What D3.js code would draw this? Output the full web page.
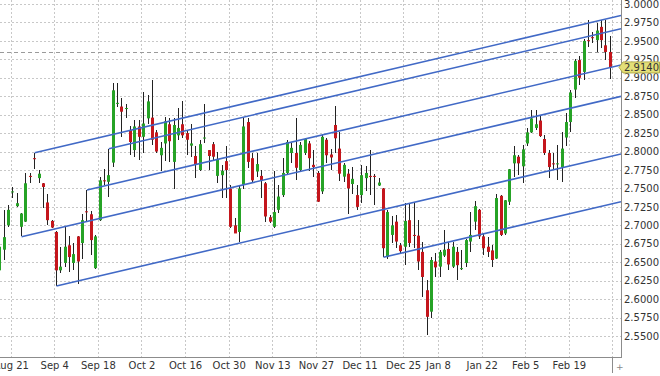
<!DOCTYPE html>
<meta charset="utf-8">
<html>
<style>
  body { margin: 0; background: #fff; }
  svg text { font-family: "DejaVu Sans", sans-serif; font-size: 10px; fill: #333; }
  .grid line { stroke: #c8c8c8; stroke-dasharray: 2,2; shape-rendering: crispEdges; }
  .wick { stroke: #222; stroke-width: 1; shape-rendering: crispEdges; }
  .channel { stroke: #4169c6; stroke-width: 1.6; fill: none; }
</style>
<body>
<svg width="660" height="376"></svg>
<script src="https://d3js.org/d3.v7.min.js"></script>
<script>

// trading calendar (weekdays, minus the two closed days)
var firstDay = "2017-08-16", lastDay = "2018-03-02";
var holidays = ["2017-12-25", "2018-01-01"];

var openP = [2.639,2.667,2.700,2.745,2.726,2.698,2.705,2.767,2.791,2.764,2.757,2.731,2.706,2.691,2.639,2.649,2.673,2.649,2.685,2.676,
  2.719,2.715,2.642,2.707,2.761,2.759,2.785,2.865,2.861,2.858,2.829,2.802,2.834,2.820,2.845,2.846,2.826,2.795,2.811,2.837,
  2.786,2.822,2.837,2.825,2.808,2.794,2.775,2.818,2.802,2.810,2.767,2.768,2.787,2.750,2.700,2.691,2.755,2.840,2.791,2.773,
  2.767,2.757,2.711,2.698,2.721,2.741,2.771,2.798,2.798,2.775,2.798,2.811,2.782,2.771,2.746,2.816,2.796,2.836,2.804,2.766,
  2.770,2.756,2.741,2.741,2.764,2.767,2.767,2.754,2.750,2.657,2.687,2.705,2.673,2.671,2.707,2.687,2.686,2.664,2.612,2.583,
  2.651,2.644,2.659,2.668,2.644,2.664,2.641,2.649,2.678,2.705,2.721,2.685,2.671,2.666,2.655,2.740,2.689,2.732,2.784,2.793,
  2.780,2.811,2.826,2.832,2.842,2.817,2.798,2.784,2.783,2.779,2.819,2.840,2.884,2.924,2.908,2.951,2.955,2.951,2.969,2.944,
  2.935];
var highP = [2.680,2.721,2.728,2.752,2.744,2.717,2.771,2.771,2.798,2.775,2.757,2.743,2.707,2.692,2.671,2.698,2.685,2.676,2.685,2.716,
  2.748,2.719,2.687,2.766,2.777,2.804,2.893,2.893,2.872,2.865,2.834,2.843,2.843,2.881,2.877,2.897,2.829,2.813,2.847,2.845,
  2.845,2.859,2.868,2.829,2.838,2.807,2.816,2.864,2.802,2.813,2.800,2.782,2.807,2.755,2.710,2.753,2.847,2.845,2.798,2.798,
  2.775,2.759,2.714,2.773,2.755,2.791,2.816,2.811,2.845,2.813,2.818,2.814,2.802,2.773,2.822,2.818,2.804,2.862,2.827,2.784,
  2.776,2.779,2.755,2.782,2.781,2.802,2.769,2.764,2.751,2.721,2.712,2.714,2.676,2.730,2.730,2.730,2.707,2.678,2.626,2.657,
  2.662,2.667,2.694,2.678,2.678,2.671,2.667,2.682,2.718,2.733,2.722,2.689,2.684,2.673,2.743,2.741,2.735,2.777,2.808,2.795,
  2.809,2.832,2.856,2.857,2.848,2.822,2.802,2.798,2.809,2.826,2.852,2.883,2.926,2.929,2.953,2.978,2.962,2.974,2.978,2.978,
  2.956];
var lowP = [2.633,2.653,2.698,2.737,2.725,2.685,2.704,2.757,2.777,2.757,2.723,2.700,2.696,2.618,2.635,2.644,2.637,2.639,2.621,2.655,
  2.705,2.660,2.641,2.706,2.755,2.739,2.779,2.861,2.820,2.845,2.795,2.793,2.789,2.798,2.838,2.809,2.798,2.773,2.787,2.786,
  2.749,2.816,2.818,2.795,2.793,2.764,2.774,2.811,2.775,2.789,2.757,2.737,2.737,2.696,2.689,2.678,2.749,2.778,2.759,2.766,
  2.737,2.705,2.703,2.696,2.717,2.739,2.768,2.784,2.761,2.773,2.795,2.773,2.766,2.731,2.743,2.784,2.775,2.798,2.760,2.759,
  2.716,2.743,2.721,2.730,2.746,2.741,2.727,2.753,2.657,2.655,2.676,2.669,2.661,2.646,2.671,2.669,2.639,2.603,2.552,2.575,
  2.630,2.630,2.657,2.639,2.642,2.626,2.639,2.644,2.664,2.694,2.682,2.660,2.657,2.644,2.654,2.686,2.687,2.728,2.766,2.768,
  2.758,2.807,2.825,2.829,2.820,2.795,2.764,2.777,2.761,2.759,2.807,2.827,2.872,2.890,2.897,2.942,2.947,2.935,2.940,2.924,
  2.898];
var closeP = [2.671,2.684,2.721,2.746,2.730,2.716,2.757,2.766,2.790,2.770,2.752,2.707,2.697,2.639,2.644,2.671,2.657,2.661,2.651,2.707,
  2.718,2.680,2.685,2.761,2.760,2.768,2.883,2.866,2.854,2.859,2.813,2.834,2.820,2.838,2.868,2.816,2.800,2.805,2.841,2.814,
  2.836,2.832,2.822,2.816,2.811,2.782,2.810,2.819,2.794,2.793,2.790,2.774,2.775,2.698,2.689,2.750,2.834,2.786,2.761,2.783,
  2.761,2.712,2.705,2.718,2.739,2.771,2.813,2.805,2.778,2.809,2.817,2.791,2.779,2.732,2.820,2.795,2.792,2.818,2.770,2.782,
  2.750,2.763,2.725,2.768,2.771,2.766,2.766,2.758,2.669,2.718,2.700,2.678,2.665,2.706,2.676,2.686,2.651,2.630,2.576,2.653,
  2.643,2.664,2.667,2.647,2.671,2.646,2.642,2.680,2.687,2.726,2.685,2.669,2.664,2.653,2.737,2.687,2.734,2.776,2.795,2.784,
  2.803,2.826,2.845,2.837,2.821,2.798,2.779,2.783,2.784,2.804,2.840,2.880,2.923,2.900,2.950,2.950,2.954,2.964,2.951,2.935,
  2.914];

var tickDates  = ["2017-08-21","2017-09-04","2017-09-18","2017-10-02","2017-10-16","2017-10-30","2017-11-13",
                  "2017-11-27","2017-12-11","2017-12-25","2018-01-08","2018-01-22","2018-02-05","2018-02-19"];
var tickLabels = ["Aug 21","Sep 4","Sep 18","Oct 2","Oct 16","Oct 30","Nov 13",
                  "Nov 27","Dec 11","Dec 25","Jan 8","Jan 22","Feb 5","Feb 19"];
var priceTicks = [2.55,2.575,2.6,2.625,2.65,2.675,2.7,2.725,2.75,2.775,2.8,2.825,2.85,2.875,2.9,2.925,2.95,2.975,3.0];

// channel lines: start candle, price there, price at right edge
var channelStart = [8, 25, 20, 5, 13, 88];
var channelFrom  = [2.7985, 2.8039, 2.7479, 2.6846, 2.6178, 2.6567];
var channelTo    = [2.9844, 2.9664, 2.9173, 2.8748, 2.7968, 2.7320];

var prevClose = 2.9345;
var lastPrice = 2.914;

var svg = d3.select("svg"),
    width = +svg.attr("width"),
    height = +svg.attr("height");

var plotRight = 621, plotBottom = 357;

var parse = d3.timeParse("%Y-%m-%d"), fmt = d3.timeFormat("%Y-%m-%d");
var days = d3.timeDay.range(parse(firstDay), d3.timeDay.offset(parse(lastDay), 1))
    .filter(function(d) { return d.getDay() > 0 && d.getDay() < 6 && holidays.indexOf(fmt(d)) < 0; })
    .map(fmt);

var x = d3.scaleBand().domain(days).range([-2.4, 612.4]);
var xi = d3.scaleLinear().domain([0, days.length]).range(x.range());
var y = d3.scaleLinear().domain([2.55, 3.0]).range([336, 4]);
var bw = x.bandwidth();

var candles = days.map(function(d, i) {
  return { day: d, o: openP[i], h: highP[i], l: lowP[i], c: closeP[i] };
});

// index of first trading day on/after each tick date
var tickIdx = tickDates.map(function(t) { return days.findIndex(function(d) { return d >= t; }); });

svg.append("defs").append("clipPath").attr("id", "plot")
  .append("rect").attr("x", 0).attr("y", 0).attr("width", plotRight).attr("height", plotBottom);

// grid
var grid = svg.append("g").attr("class", "grid");
grid.selectAll(".hg").data(priceTicks).enter().append("line")
    .attr("x1", 0).attr("x2", plotRight)
    .attr("y1", function(d) { return Math.round(y(d)) + 0.5; })
    .attr("y2", function(d) { return Math.round(y(d)) + 0.5; });
grid.selectAll(".vg").data(tickIdx.concat([days.length])).enter().append("line")
    .attr("y1", 0).attr("y2", plotBottom)
    .attr("x1", function(d) { return Math.round(xi(d)) + 0.5; })
    .attr("x2", function(d) { return Math.round(xi(d)) + 0.5; });

var plot = svg.append("g").attr("clip-path", "url(#plot)");

// previous close reference
plot.append("line")
    .attr("x1", 0).attr("x2", plotRight)
    .attr("y1", Math.round(y(prevClose)) + 0.5).attr("y2", Math.round(y(prevClose)) + 0.5)
    .attr("stroke", "#9a9a9a").attr("stroke-dasharray", "4,3");

var cg = plot.selectAll(".candle").data(candles).enter().append("g");

cg.append("line").attr("class", "wick")
    .attr("x1", function(d) { return Math.floor(x(d.day) + bw / 2) + 0.5; })
    .attr("x2", function(d) { return Math.floor(x(d.day) + bw / 2) + 0.5; })
    .attr("y1", function(d) { return y(d.h); })
    .attr("y2", function(d) { return y(d.l); });

cg.append("rect")
    .attr("x", function(d) { return Math.floor(x(d.day) + bw / 2) - 1; })
    .attr("width", 3)
    .attr("y", function(d) { return y(Math.max(d.o, d.c)); })
    .attr("height", function(d) { return Math.max(1, Math.abs(y(d.o) - y(d.c))); })
    .attr("fill", function(d) { return d.c >= d.o ? "#26a326" : "#c4161c"; });

// channel lines
plot.selectAll(".channel").data(channelStart).enter().append("line")
    .attr("class", "channel")
    .attr("x1", function(s) { return x(days[s]) + bw / 2; })
    .attr("y1", function(s, k) { return y(channelFrom[k]); })
    .attr("x2", plotRight)
    .attr("y2", function(s, k) { return y(channelTo[k]); });

// frame
svg.append("line").attr("x1", plotRight + 0.5).attr("x2", plotRight + 0.5).attr("y1", 0).attr("y2", plotBottom)
    .attr("stroke", "#8c8c8c");
svg.append("line").attr("x1", 0).attr("x2", plotRight + 1).attr("y1", plotBottom + 0.5).attr("y2", plotBottom + 0.5)
    .attr("stroke", "#8c8c8c");
svg.append("line").attr("x1", Math.round(xi(days.length)) + 0.5).attr("x2", Math.round(xi(days.length)) + 0.5)
    .attr("y1", plotBottom).attr("y2", plotBottom + 16).attr("stroke", "#8c8c8c");
svg.append("text").attr("x", Math.round(xi(days.length)) + 4).attr("y", plotBottom + 13)
    .style("fill", "#888").style("font-size", "9px").text("+");

// axes
var yAxis = svg.append("g").attr("transform", "translate(" + plotRight + ",0)")
    .call(d3.axisRight(y).tickValues(priceTicks).tickFormat(d3.format(".4f")).tickSize(0).tickPadding(3));
yAxis.select(".domain").remove();

var xAxis = svg.append("g").attr("transform", "translate(0," + plotBottom + ")")
    .call(d3.axisBottom(xi).tickValues(tickIdx).tickFormat(function(d, i) { return tickLabels[i]; })
      .tickSize(0).tickPadding(5));
xAxis.select(".domain").remove();
svg.selectAll(".tick text").attr("font-family", null).attr("font-size", null);

// last price tag
var ly = y(lastPrice);
svg.append("path")
    .attr("d", "M" + (plotRight - 2) + "," + ly + "L" + (plotRight + 2) + "," + (ly - 5.5) +
               "H" + (width - 0.5) + "V" + (ly + 5.5) + "H" + (plotRight + 2) + "Z")
    .attr("fill", "#e3df78").attr("stroke", "#b3ae4e");
svg.append("text").attr("x", plotRight + 3).attr("y", ly).attr("dy", "0.34em").text(d3.format(".4f")(lastPrice));

</script>
</body>
</html>
